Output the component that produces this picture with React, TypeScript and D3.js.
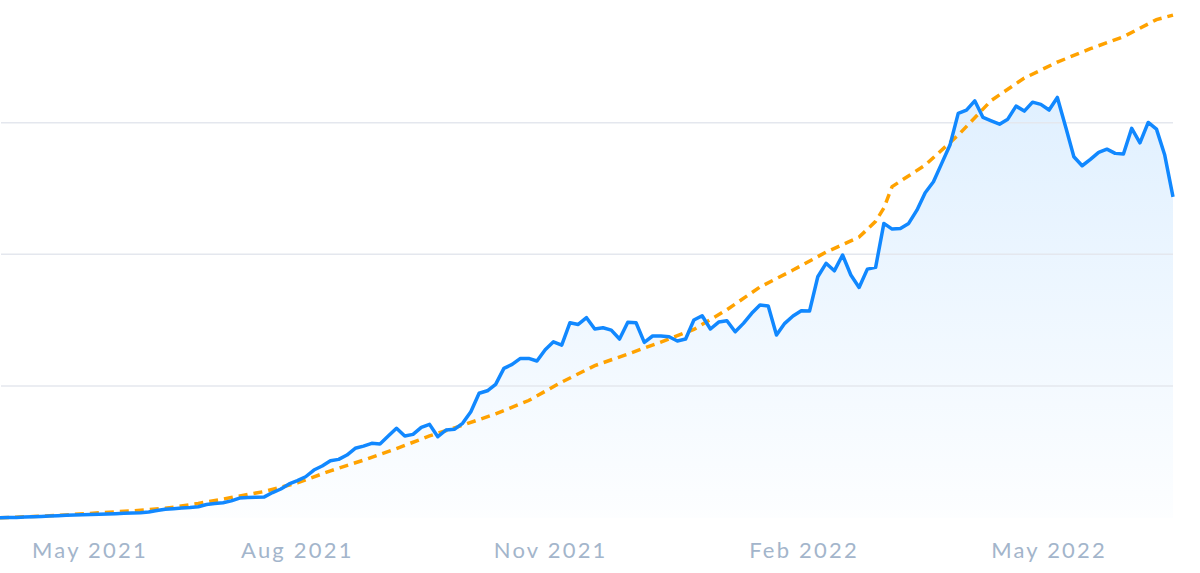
import React from "react";
import * as d3 from "d3";

// Sampling: one point every 3 days
const START_DATE = "2021-04-15";
const STEP_DAYS = 3;

// Blue series (actual), one value per sample
const blueValues: number[] = [
  0.0, 0.1, 0.2, 0.5, 0.8, 1.0, 1.3, 1.5, 1.8, 2.0, 2.2, 2.4, 2.6, 2.8, 3.0, 3.3,
  3.5, 3.8, 4.3, 5.4, 6.4, 6.8, 7.3, 7.7, 8.3, 10.0, 10.8, 11.4, 12.8, 14.9, 15.3,
  15.5, 15.8, 19.1,
  21.8, 25.6, 28.1, 31.1, 36.2, 39.3, 43.3, 44.3, 47.6, 52.7, 54.4, 56.5, 56.0,
  62.0, 67.9, 62.0, 63.3, 68.6, 70.9, 61.5, 66.6, 67.1, 71.7, 80.5, 94.5, 96.4,
  101.3, 113.4, 116.4, 121.0, 121.0, 119.0,
  127.6, 133.6, 131.1, 148.1, 146.8, 151.9, 143.3, 144.3, 142.5, 135.7, 148.4,
  148.1, 133.2, 138.0, 138.0, 137.4, 134.2, 135.7, 150.1, 153.4, 143.3, 148.6,
  149.6, 141.2, 147.6, 155.2, 161.5, 160.8, 138.7, 147.6, 153.2, 157.2,
  156.9, 183.0, 193.2, 187.5, 199.5, 184.3, 174.9, 188.8, 190.1, 223.5, 219.2,
  219.7, 223.5,
  233.6, 246.8, 255.1, 269.1, 283.0, 307.1, 309.6, 316.6, 304.0, 301.4, 298.9,
  302.7, 312.6, 308.8, 315.6, 313.9, 309.6, 319.2, 296.9, 274.1, 267.3, 272.1,
  277.4, 279.9, 276.7, 276.2, 295.7, 284.7, 300.2, 295.1, 275.4, 243.7,
];

// Orange series (trend), given at a subset of sample indices
const orangeIndex: number[] = [
  0, 4, 8, 12, 16, 20, 24, 28, 32, 36, 40, 44, 48, 52, 56, 60, 64, 68, 72, 76,
  80, 84, 88, 92, 96, 100, 104, 106, 107, 108, 112, 116, 120, 124, 128, 132, 136,
  140, 142,
];
const orangeValues: number[] = [
  0, 0.9, 2.1, 3.7, 5.2, 7.1, 10.8, 15.3, 19.9, 26.4, 35.6, 43.7, 52.5, 62.1,
  70.2, 78.9, 89.0, 103.0, 115.5, 124.3, 133.4, 143.0, 158.0, 175.2, 188.1,
  201.7, 213.1, 225.1, 235.2, 251.5, 267.8, 290.6, 316.9, 333.9, 346.0, 356.2,
  365.3, 378.3, 381.7,
];

// Axis
const tickDates: string[] = ["2021-05-01", "2021-08-01", "2021-11-01", "2022-02-01", "2022-05-01"];
const tickLabels: string[] = ["May 2021", "Aug 2021", "Nov 2021", "Feb 2022", "May 2022"];
const gridValues: number[] = [100, 200, 300];

const W = 1200;
const H = 573;

export default function App() {
  const parse = d3.timeParse("%Y-%m-%d");
  const start = parse(START_DATE) as Date;
  const dates = blueValues.map((_, i) => d3.timeDay.offset(start, i * STEP_DAYS));

  const x = d3
    .scaleTime()
    .domain([dates[0], dates[dates.length - 1]])
    .range([0, 1173]);
  const y = d3.scaleLinear().domain([0, 300]).range([517.7, 122.7]);

  const bluePts = blueValues.map((v, i) => ({ d: dates[i], v }));
  const orangePts = orangeIndex.map((idx, k) => ({ d: dates[idx], v: orangeValues[k] }));

  const line = d3
    .line<{ d: Date; v: number }>()
    .x((p) => x(p.d))
    .y((p) => y(p.v));
  const area = d3
    .area<{ d: Date; v: number }>()
    .x((p) => x(p.d))
    .y0(y(0))
    .y1((p) => y(p.v));

  return (
    <svg
      width={W}
      height={H}
      style={{ position: "absolute", left: 0, top: 0, background: "#fff" }}
    >
      <defs>
        <linearGradient id="areaGrad" gradientUnits="userSpaceOnUse" x1="0" y1={y(320)} x2="0" y2={y(0)}>
          <stop offset="0" stopColor="#118bff" stopOpacity={0.13} />
          <stop offset="1" stopColor="#118bff" stopOpacity={0.01} />
        </linearGradient>
      </defs>
      <path d={area(bluePts) || ""} fill="url(#areaGrad)" />
      {gridValues.map((g) => (
        <line
          key={g}
          x1={1}
          x2={x(dates[dates.length - 1])}
          y1={y(g)}
          y2={y(g)}
          stroke="#e4e7ee"
          strokeWidth={1.5}
        />
      ))}
      <path
        d={line(orangePts) || ""}
        fill="none"
        stroke="#ffa200"
        strokeWidth={3.5}
        strokeDasharray="9,6"
      />
      <path
        d={line(bluePts) || ""}
        fill="none"
        stroke="#1188ff"
        strokeWidth={3.5}
        strokeLinejoin="round"
      />
      {tickDates.map((t, i) => {
        const tx = Math.max(x(parse(t) as Date), 90);
        return (
          <text
            key={t}
            x={tx}
            y={558}
            textAnchor="middle"
            fontFamily="Lato, 'Open Sans', sans-serif"
            fontSize={22}
            letterSpacing={2.2}
            fill="#a3b5cb"
          >
            {tickLabels[i]}
          </text>
        );
      })}
    </svg>
  );
}
